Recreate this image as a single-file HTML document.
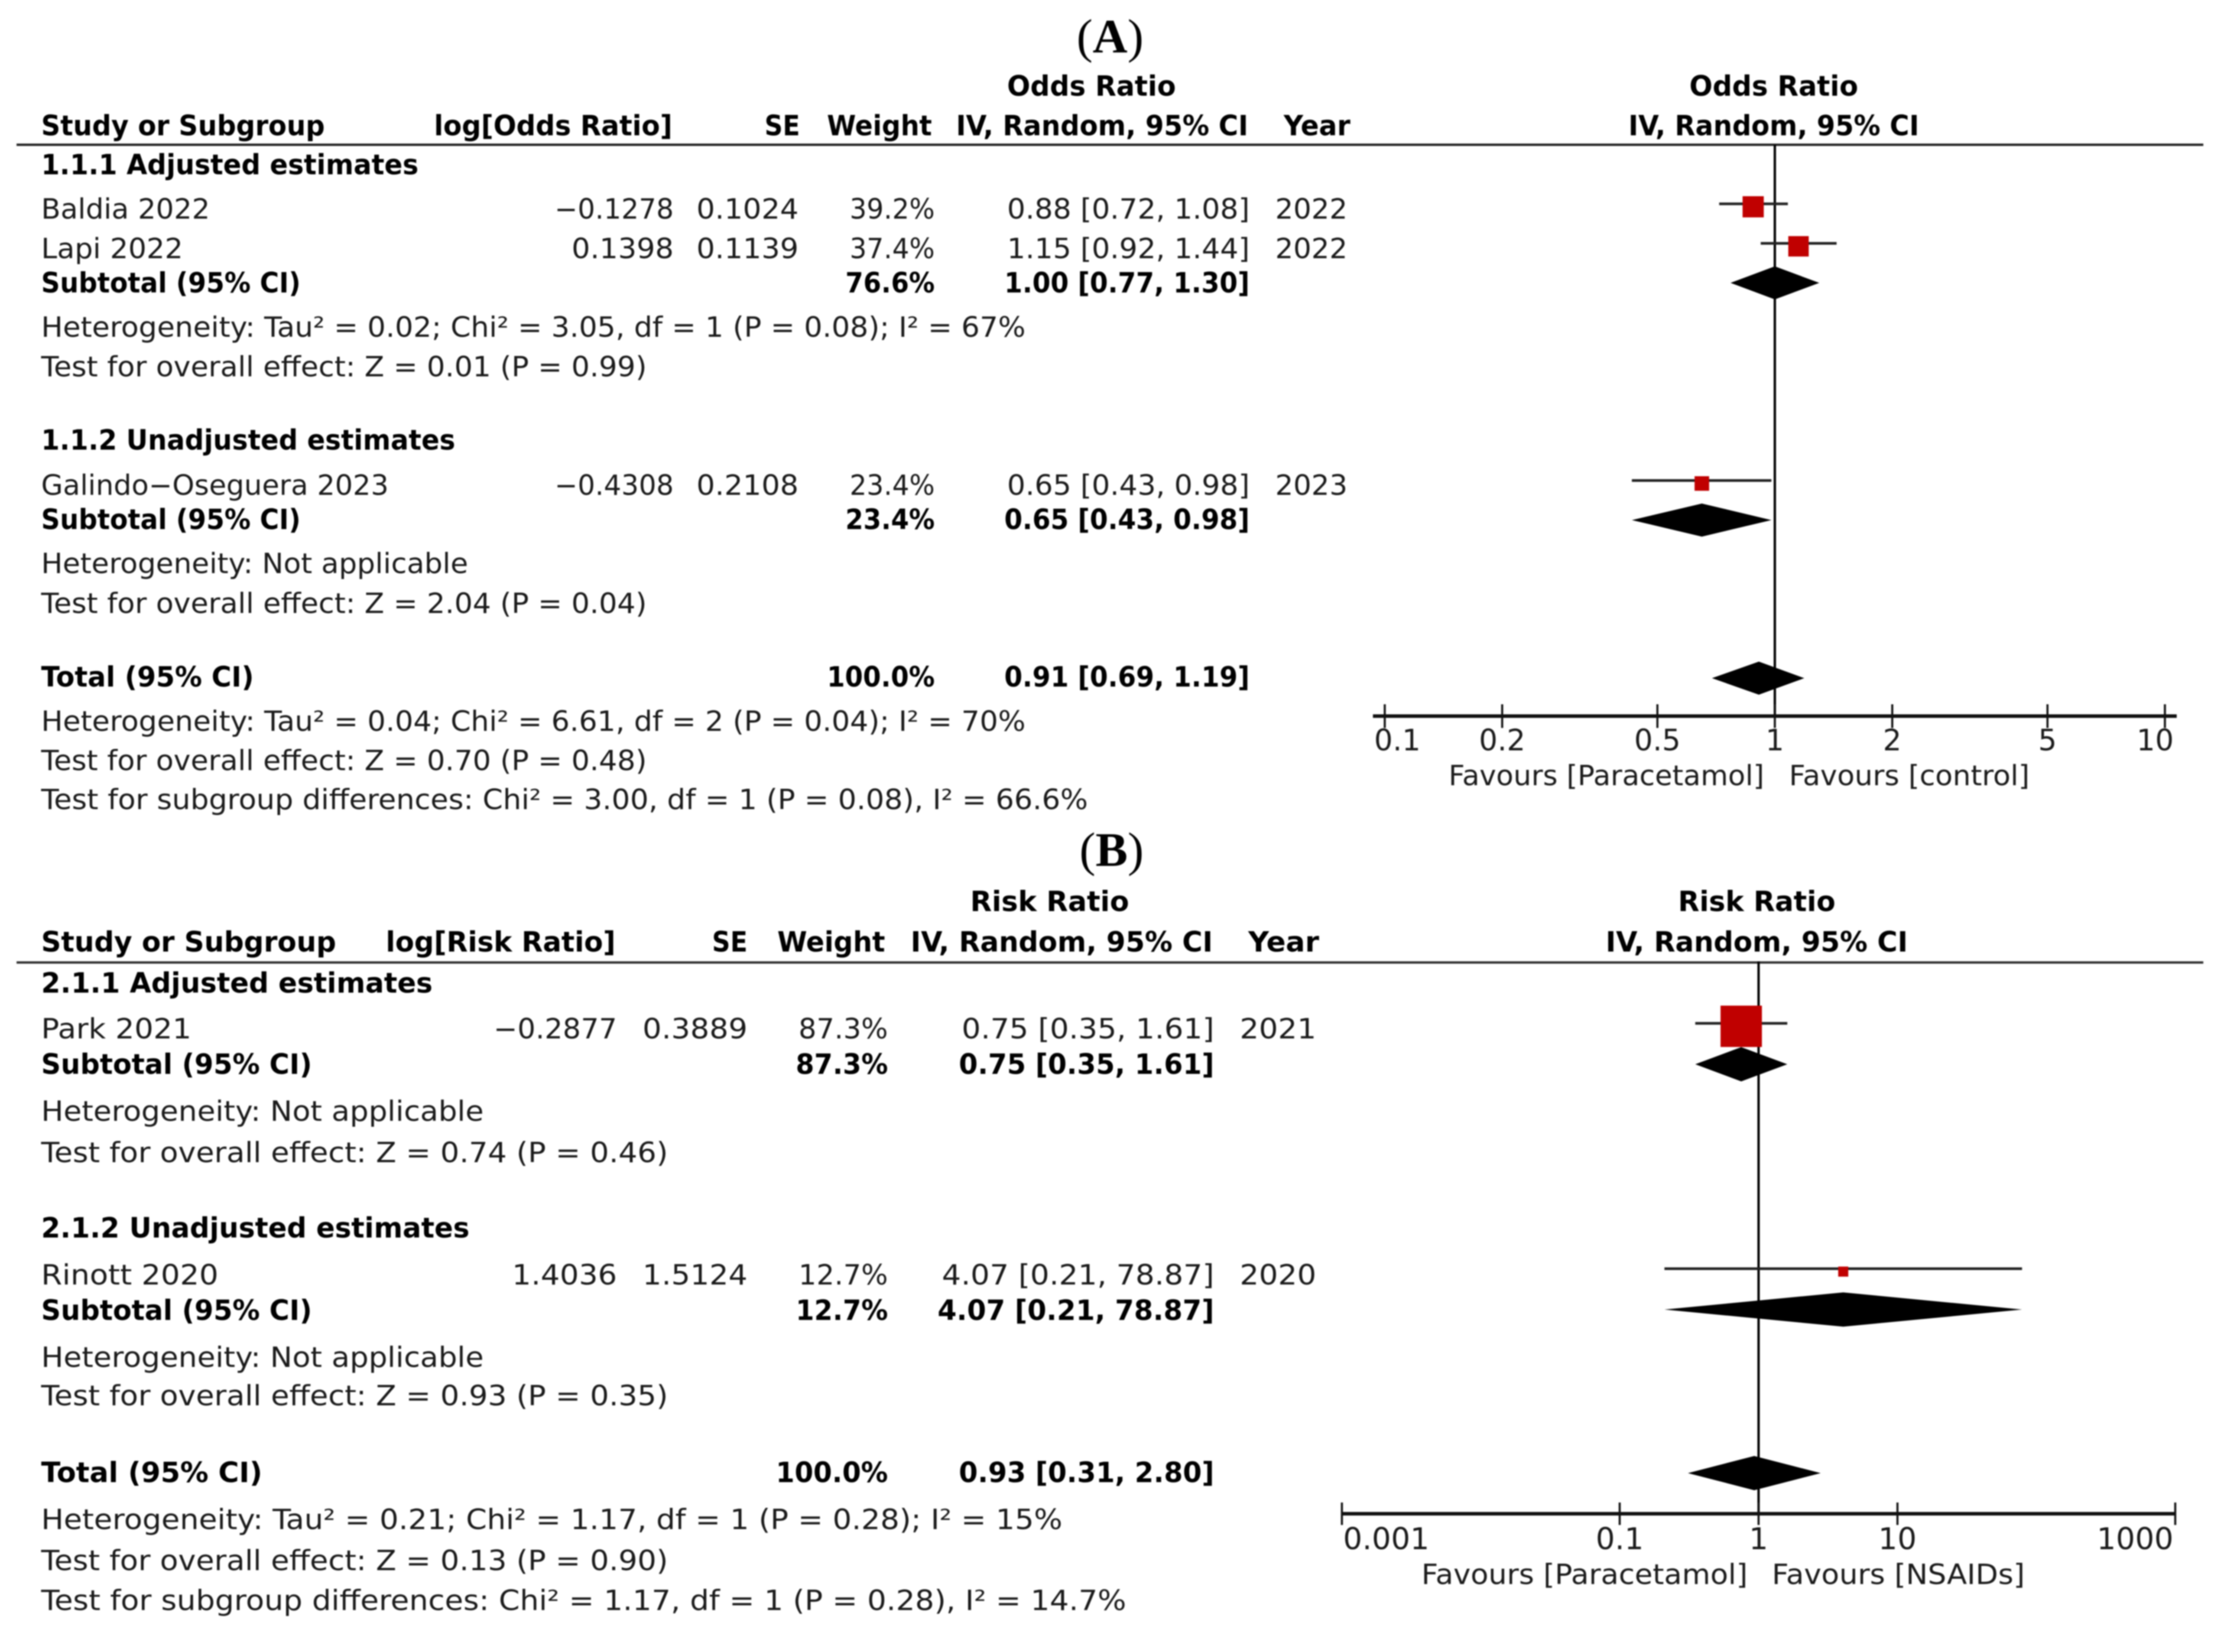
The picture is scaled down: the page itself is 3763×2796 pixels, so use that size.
<!DOCTYPE html>
<html lang="en">
<head>
<meta charset="utf-8">
<title>Forest plots: Paracetamol</title>
<style>
html,body{margin:0;padding:0;background:#fff;}
#fig{display:block;width:3763px;height:2796px;filter:blur(1px);}
.t{font-family:"DejaVu Sans","Liberation Sans",sans-serif;font-size:19.6px;fill:#1a1a1a;}
.b{font-family:"DejaVu Sans","Liberation Sans",sans-serif;font-size:19.6px;font-weight:bold;fill:#000;}
.title{font-family:"Liberation Serif",serif;font-size:34px;fill:#000;}
.tick{font-family:"DejaVu Sans","Liberation Sans",sans-serif;font-size:47px;fill:#1a1a1a;}
</style>
</head>
<body>
<svg id="fig" xmlns="http://www.w3.org/2000/svg" width="3763" height="2796" viewBox="0 0 3763 2796">
<rect x="0" y="0" width="3763" height="2796" fill="#fff"/>

<g transform="translate(0 2) scale(2.4)">
  <!-- Panel A -->
  <text class="title" x="759" y="36.3">(<tspan font-weight="bold">A</tspan>)</text>
  <text class="b" x="710" y="66.7" textLength="119" lengthAdjust="spacingAndGlyphs">Odds Ratio</text>
  <text class="b" x="1191" y="66.7" textLength="119" lengthAdjust="spacingAndGlyphs">Odds Ratio</text>
  <text class="b" x="29" y="94.5" textLength="200" lengthAdjust="spacingAndGlyphs">Study or Subgroup</text>
  <text class="b" x="306" y="94.5" textLength="168" lengthAdjust="spacingAndGlyphs">log[Odds Ratio]</text>
  <text class="b" x="539" y="94.5" textLength="25" lengthAdjust="spacingAndGlyphs">SE</text>
  <text class="b" x="583" y="94.5" textLength="74" lengthAdjust="spacingAndGlyphs">Weight</text>
  <text class="b" x="674" y="94.5" textLength="206" lengthAdjust="spacingAndGlyphs">IV, Random, 95% CI</text>
  <text class="b" x="905" y="94.5" textLength="47" lengthAdjust="spacingAndGlyphs">Year</text>
  <text class="b" x="1148" y="94.5" textLength="205" lengthAdjust="spacingAndGlyphs">IV, Random, 95% CI</text>

  <text class="b" x="29" y="122.1" textLength="266" lengthAdjust="spacingAndGlyphs">1.1.1 Adjusted estimates</text>
  <text class="t" x="29" y="153.4" textLength="119" lengthAdjust="spacingAndGlyphs">Baldia 2022</text>
  <text class="t" x="391" y="153.4" textLength="84" lengthAdjust="spacingAndGlyphs">−0.1278</text>
  <text class="t" x="491" y="153.4" textLength="72" lengthAdjust="spacingAndGlyphs">0.1024</text>
  <text class="t" x="599" y="153.4" textLength="60" lengthAdjust="spacingAndGlyphs">39.2%</text>
  <text class="t" x="710" y="153.4" textLength="171" lengthAdjust="spacingAndGlyphs">0.88 [0.72, 1.08]</text>
  <text class="t" x="899" y="153.4" textLength="51" lengthAdjust="spacingAndGlyphs">2022</text>

  <text class="t" x="29" y="181.2" textLength="100" lengthAdjust="spacingAndGlyphs">Lapi 2022</text>
  <text class="t" x="403" y="181.2" textLength="72" lengthAdjust="spacingAndGlyphs">0.1398</text>
  <text class="t" x="491" y="181.2" textLength="72" lengthAdjust="spacingAndGlyphs">0.1139</text>
  <text class="t" x="599" y="181.2" textLength="60" lengthAdjust="spacingAndGlyphs">37.4%</text>
  <text class="t" x="710" y="181.2" textLength="171" lengthAdjust="spacingAndGlyphs">1.15 [0.92, 1.44]</text>
  <text class="t" x="899" y="181.2" textLength="51" lengthAdjust="spacingAndGlyphs">2022</text>

  <text class="b" x="29" y="205.4" textLength="183" lengthAdjust="spacingAndGlyphs">Subtotal (95% CI)</text>
  <text class="b" x="596" y="205.4" textLength="63" lengthAdjust="spacingAndGlyphs">76.6%</text>
  <text class="b" x="708" y="205.4" textLength="173" lengthAdjust="spacingAndGlyphs">1.00 [0.77, 1.30]</text>
  <text class="t" x="29" y="236.7" textLength="694" lengthAdjust="spacingAndGlyphs">Heterogeneity: Tau² = 0.02; Chi² = 3.05, df = 1 (P = 0.08); I² = 67%</text>
  <text class="t" x="29" y="264.6" textLength="427" lengthAdjust="spacingAndGlyphs">Test for overall effect: Z = 0.01 (P = 0.99)</text>

  <text class="b" x="29" y="316.2" textLength="292" lengthAdjust="spacingAndGlyphs">1.1.2 Unadjusted estimates</text>
  <text class="t" x="29" y="348.2" textLength="245" lengthAdjust="spacingAndGlyphs">Galindo−Oseguera 2023</text>
  <text class="t" x="391" y="348.2" textLength="84" lengthAdjust="spacingAndGlyphs">−0.4308</text>
  <text class="t" x="491" y="348.2" textLength="72" lengthAdjust="spacingAndGlyphs">0.2108</text>
  <text class="t" x="599" y="348.2" textLength="60" lengthAdjust="spacingAndGlyphs">23.4%</text>
  <text class="t" x="710" y="348.2" textLength="171" lengthAdjust="spacingAndGlyphs">0.65 [0.43, 0.98]</text>
  <text class="t" x="899" y="348.2" textLength="51" lengthAdjust="spacingAndGlyphs">2023</text>
  <text class="b" x="29" y="372.3" textLength="183" lengthAdjust="spacingAndGlyphs">Subtotal (95% CI)</text>
  <text class="b" x="596" y="372.3" textLength="63" lengthAdjust="spacingAndGlyphs">23.4%</text>
  <text class="b" x="708" y="372.3" textLength="173" lengthAdjust="spacingAndGlyphs">0.65 [0.43, 0.98]</text>
  <text class="t" x="29" y="403.4" textLength="301" lengthAdjust="spacingAndGlyphs">Heterogeneity: Not applicable</text>
  <text class="t" x="29" y="431.5" textLength="427" lengthAdjust="spacingAndGlyphs">Test for overall effect: Z = 2.04 (P = 0.04)</text>

  <text class="b" x="29" y="483.3" textLength="150" lengthAdjust="spacingAndGlyphs">Total (95% CI)</text>
  <text class="b" x="583" y="483.3" textLength="76" lengthAdjust="spacingAndGlyphs">100.0%</text>
  <text class="b" x="708" y="483.3" textLength="173" lengthAdjust="spacingAndGlyphs">0.91 [0.69, 1.19]</text>
  <text class="t" x="29" y="514.5" textLength="694" lengthAdjust="spacingAndGlyphs">Heterogeneity: Tau² = 0.04; Chi² = 6.61, df = 2 (P = 0.04); I² = 70%</text>
  <text class="t" x="29" y="542.2" textLength="427" lengthAdjust="spacingAndGlyphs">Test for overall effect: Z = 0.70 (P = 0.48)</text>
  <text class="t" x="29" y="569.8" textLength="738" lengthAdjust="spacingAndGlyphs">Test for subgroup differences: Chi² = 3.00, df = 1 (P = 0.08), I² = 66.6%</text>

  <!-- Panel B -->
  <text class="title" x="761" y="609.7">(<tspan font-weight="bold">B</tspan>)</text>
  <text class="b" x="684" y="641.6" textLength="112" lengthAdjust="spacingAndGlyphs">Risk Ratio</text>
  <text class="b" x="1183" y="641.6" textLength="111" lengthAdjust="spacingAndGlyphs">Risk Ratio</text>
  <text class="b" x="29" y="670.2" textLength="208" lengthAdjust="spacingAndGlyphs">Study or Subgroup</text>
  <text class="b" x="272" y="670.2" textLength="162" lengthAdjust="spacingAndGlyphs">log[Risk Ratio]</text>
  <text class="b" x="502" y="670.2" textLength="25" lengthAdjust="spacingAndGlyphs">SE</text>
  <text class="b" x="548" y="670.2" textLength="76" lengthAdjust="spacingAndGlyphs">Weight</text>
  <text class="b" x="642" y="670.2" textLength="213" lengthAdjust="spacingAndGlyphs">IV, Random, 95% CI</text>
  <text class="b" x="880" y="670.2" textLength="50" lengthAdjust="spacingAndGlyphs">Year</text>
  <text class="b" x="1132" y="670.2" textLength="213" lengthAdjust="spacingAndGlyphs">IV, Random, 95% CI</text>

  <text class="b" x="29" y="699.2" textLength="276" lengthAdjust="spacingAndGlyphs">2.1.1 Adjusted estimates</text>
  <text class="t" x="29" y="731.4" textLength="106" lengthAdjust="spacingAndGlyphs">Park 2021</text>
  <text class="t" x="348" y="731.4" textLength="87" lengthAdjust="spacingAndGlyphs">−0.2877</text>
  <text class="t" x="453" y="731.4" textLength="74" lengthAdjust="spacingAndGlyphs">0.3889</text>
  <text class="t" x="563" y="731.4" textLength="63" lengthAdjust="spacingAndGlyphs">87.3%</text>
  <text class="t" x="678" y="731.4" textLength="178" lengthAdjust="spacingAndGlyphs">0.75 [0.35, 1.61]</text>
  <text class="t" x="874" y="731.4" textLength="54" lengthAdjust="spacingAndGlyphs">2021</text>
  <text class="b" x="29" y="756.5" textLength="191" lengthAdjust="spacingAndGlyphs">Subtotal (95% CI)</text>
  <text class="b" x="561" y="756.5" textLength="65" lengthAdjust="spacingAndGlyphs">87.3%</text>
  <text class="b" x="676" y="756.5" textLength="180" lengthAdjust="spacingAndGlyphs">0.75 [0.35, 1.61]</text>
  <text class="t" x="29" y="789.6" textLength="312" lengthAdjust="spacingAndGlyphs">Heterogeneity: Not applicable</text>
  <text class="t" x="29" y="818.7" textLength="442" lengthAdjust="spacingAndGlyphs">Test for overall effect: Z = 0.74 (P = 0.46)</text>

  <text class="b" x="29" y="871.8" textLength="302" lengthAdjust="spacingAndGlyphs">2.1.2 Unadjusted estimates</text>
  <text class="t" x="29" y="904.9" textLength="125" lengthAdjust="spacingAndGlyphs">Rinott 2020</text>
  <text class="t" x="361" y="904.9" textLength="74" lengthAdjust="spacingAndGlyphs">1.4036</text>
  <text class="t" x="453" y="904.9" textLength="74" lengthAdjust="spacingAndGlyphs">1.5124</text>
  <text class="t" x="563" y="904.9" textLength="63" lengthAdjust="spacingAndGlyphs">12.7%</text>
  <text class="t" x="664" y="904.9" textLength="192" lengthAdjust="spacingAndGlyphs">4.07 [0.21, 78.87]</text>
  <text class="t" x="874" y="904.9" textLength="54" lengthAdjust="spacingAndGlyphs">2020</text>
  <text class="b" x="29" y="930" textLength="191" lengthAdjust="spacingAndGlyphs">Subtotal (95% CI)</text>
  <text class="b" x="561" y="930" textLength="65" lengthAdjust="spacingAndGlyphs">12.7%</text>
  <text class="b" x="661" y="930" textLength="195" lengthAdjust="spacingAndGlyphs">4.07 [0.21, 78.87]</text>
  <text class="t" x="29" y="963.1" textLength="312" lengthAdjust="spacingAndGlyphs">Heterogeneity: Not applicable</text>
  <text class="t" x="29" y="990.2" textLength="442" lengthAdjust="spacingAndGlyphs">Test for overall effect: Z = 0.93 (P = 0.35)</text>

  <text class="b" x="29" y="1044.3" textLength="156" lengthAdjust="spacingAndGlyphs">Total (95% CI)</text>
  <text class="b" x="547" y="1044.3" textLength="79" lengthAdjust="spacingAndGlyphs">100.0%</text>
  <text class="b" x="676" y="1044.3" textLength="180" lengthAdjust="spacingAndGlyphs">0.93 [0.31, 2.80]</text>
  <text class="t" x="29" y="1077.4" textLength="720" lengthAdjust="spacingAndGlyphs">Heterogeneity: Tau² = 0.21; Chi² = 1.17, df = 1 (P = 0.28); I² = 15%</text>
  <text class="t" x="29" y="1106.5" textLength="442" lengthAdjust="spacingAndGlyphs">Test for overall effect: Z = 0.13 (P = 0.90)</text>
  <text class="t" x="29" y="1134.5" textLength="765" lengthAdjust="spacingAndGlyphs">Test for subgroup differences: Chi² = 1.17, df = 1 (P = 0.28), I² = 14.7%</text>
</g>

<g>
  <text class="tick" x="2451" y="1329" textLength="534" lengthAdjust="spacingAndGlyphs">Favours [Paracetamol]</text>
  <text class="tick" x="3027" y="1329" textLength="407" lengthAdjust="spacingAndGlyphs">Favours [control]</text>
  <text class="tick" x="2405" y="2681" textLength="552" lengthAdjust="spacingAndGlyphs">Favours [Paracetamol]</text>
  <text class="tick" x="2998" y="2681" textLength="428" lengthAdjust="spacingAndGlyphs">Favours [NSAIDs]</text>
</g>

<rect x="28" y="243" width="3700" height="4" fill="#222"/>
<rect x="28" y="1627" width="3700" height="4" fill="#333"/>
<g id="marks"></g>
</svg>

<script>
// Panel A: odds ratios
const aEffect = [0.88, 1.15, 0.65];
const aLow = [0.72, 0.92, 0.43];
const aHigh = [1.08, 1.44, 0.98];
const aWeight = [39.2, 37.4, 23.4];
const aStudyRows = [0, 1, 7];
const aPoolEffect = [1.00, 0.65, 0.91];
const aPoolLow = [0.77, 0.43, 0.69];
const aPoolHigh = [1.30, 0.98, 1.19];
const aPoolRows = [2, 8, 12];
const aTicks = [0.1, 0.2, 0.5, 1, 2, 5, 10];
const aTickLabels = ['0.1', '0.2', '0.5', '1', '2', '5', '10'];

// Panel B: risk ratios
const bEffect = [0.75, 4.07];
const bLow = [0.35, 0.21];
const bHigh = [1.61, 78.87];
const bWeight = [87.3, 12.7];
const bStudyRows = [0, 6];
const bPoolEffect = [0.75, 4.07, 0.93];
const bPoolLow = [0.35, 0.21, 0.31];
const bPoolHigh = [1.61, 78.87, 2.80];
const bPoolRows = [1, 7, 11];
const bTicks = [0.001, 0.1, 1, 10, 1000];
const bTickLabels = ['0.001', '0.1', '1', '10', '1000'];

const NS = 'http://www.w3.org/2000/svg';
const marks = document.getElementById('marks');

function make(tag, attrs) {
  const el = document.createElementNS(NS, tag);
  for (const k in attrs) el.setAttribute(k, attrs[k]);
  marks.appendChild(el);
  return el;
}

function drawPanel(p) {
  const x = v => p.nullX + p.decade * Math.log10(v);
  const y = r => p.firstRowY + p.rowPitch * r;

  const nullLine = make('line', {x1: x(1), x2: x(1), y1: p.top, y2: p.axisY, stroke: '#000', 'stroke-width': 4});
  
  

  const axis = make('line', {x1: x(p.ticks[0]) - p.axisOver, x2: x(p.ticks[p.ticks.length - 1]) + p.axisOver, y1: p.axisY, y2: p.axisY, stroke: '#111', 'stroke-width': 6});
  
  

  p.ticks.forEach((t, i) => {
    const tick = make('line', {x1: x(t), x2: x(t), y1: p.axisY - p.tickLen, y2: p.axisY + p.tickLen, stroke: '#111', 'stroke-width': 3.5});
    
    

    let anchor = 'middle', lx = x(t);
    if (i === 0) { anchor = 'start'; lx = x(t) + p.firstShift; }
    if (i === p.ticks.length - 1) { anchor = 'end'; lx = x(t) + p.lastShift; }
    const lab = make('text', {x: lx, y: p.tickLabelY, 'text-anchor': anchor, class: 'tick', style: 'font-size:' + p.tickFont + 'px'});
    lab.textContent = p.tickLabels[i];
    
    
  });

  p.effect.forEach((v, i) => {
    const ci = make('line', {x1: x(p.low[i]), x2: x(p.high[i]), y1: y(p.studyRows[i]), y2: y(p.studyRows[i]), stroke: '#222', 'stroke-width': 4.5});
    
    

    const size = 8 + 0.71 * p.weight[i];
    const sq = make('rect', {x: x(v) - size / 2, y: y(p.studyRows[i]) + 5 - size / 2, width: size, height: size, fill: '#c00000'});
    
    
  });

  p.poolEffect.forEach((v, i) => {
    const cy = y(p.poolRows[i]);
    const pts = [x(p.poolLow[i]) + ',' + cy, x(v) + ',' + (cy - p.diamondHalf), x(p.poolHigh[i]) + ',' + cy, x(v) + ',' + (cy + p.diamondHalf)].join(' ');
    const d = make('polygon', {points: pts, fill: '#000'});
    
    
  });
}

drawPanel({
  key: 'a', nullX: 3003, decade: 660, firstRowY: 345, rowPitch: 66.9, top: 245, axisY: 1212,
  axisOver: 20, tickLen: 20, tickLabelY: 1270, tickFont: 49.5, firstShift: -18, lastShift: 15, diamondHalf: 28,
  effect: aEffect, low: aLow, high: aHigh, weight: aWeight, studyRows: aStudyRows,
  poolEffect: aPoolEffect, poolLow: aPoolLow, poolHigh: aPoolHigh, poolRows: aPoolRows,
  ticks: aTicks, tickLabels: aTickLabels
});
drawPanel({
  key: 'b', nullX: 2975.5, decade: 235, firstRowY: 1732, rowPitch: 69.2, top: 1627, axisY: 2562,
  axisOver: 0, tickLen: 19, tickLabelY: 2622, tickFont: 51, firstShift: 2, lastShift: -3, diamondHalf: 29,
  effect: bEffect, low: bLow, high: bHigh, weight: bWeight, studyRows: bStudyRows,
  poolEffect: bPoolEffect, poolLow: bPoolLow, poolHigh: bPoolHigh, poolRows: bPoolRows,
  ticks: bTicks, tickLabels: bTickLabels
});
</script>
</body>
</html>
